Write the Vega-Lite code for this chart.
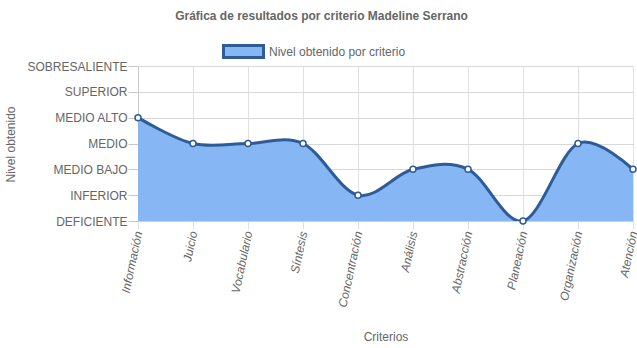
{
  "$schema": "https://vega.github.io/schema/vega-lite/v6.json",
  "width": 495,
  "height": 155,
  "autosize": {"type": "none"},
  "padding": {"left": 138, "top": 66, "right": 4, "bottom": 127},
  "background": "white",
  "config": {
    "font": "Liberation Sans",
    "view": {"stroke": null}
  },
  "title": {
    "text": "Gráfica de resultados por criterio Madeline Serrano",
    "font": "Liberation Sans",
    "fontSize": 12,
    "fontWeight": "bold",
    "color": "#666666",
    "anchor": "middle",
    "frame": "bounds",
    "offset": 7
  },
  "data": {
    "values": [
      {"criterio": "Información", "nivel": 4, "serie": "Nivel obtenido por criterio"},
      {"criterio": "Juicio", "nivel": 3, "serie": "Nivel obtenido por criterio"},
      {"criterio": "Vocabulario", "nivel": 3, "serie": "Nivel obtenido por criterio"},
      {"criterio": "Síntesis", "nivel": 3, "serie": "Nivel obtenido por criterio"},
      {"criterio": "Concentración", "nivel": 1, "serie": "Nivel obtenido por criterio"},
      {"criterio": "Análisis", "nivel": 2, "serie": "Nivel obtenido por criterio"},
      {"criterio": "Abstracción", "nivel": 2, "serie": "Nivel obtenido por criterio"},
      {"criterio": "Planeación", "nivel": 0, "serie": "Nivel obtenido por criterio"},
      {"criterio": "Organización", "nivel": 3, "serie": "Nivel obtenido por criterio"},
      {"criterio": "Atención", "nivel": 2, "serie": "Nivel obtenido por criterio"}
    ]
  },
  "encoding": {
    "x": {
      "field": "criterio",
      "type": "nominal",
      "sort": null,
      "scale": {"type": "point", "padding": 0},
      "axis": {
        "title": "Criterios",
        "titleFont": "Liberation Sans",
        "titleFontSize": 12,
        "titleFontWeight": "normal",
        "titleColor": "#666666",
        "titleY": 115,
        "titleBaseline": "middle",
        "labelAngle": -78,
        "labelFont": "Liberation Sans",
        "labelFontSize": 12,
        "labelFontStyle": "italic",
        "labelColor": "#666666",
        "labelPadding": 2,
        "tickSize": 8,
        "tickColor": "#e0e0e0",
        "grid": true,
        "gridColor": "#e0e0e0",
        "domainColor": "#d0d0d0"
      }
    },
    "y": {
      "field": "nivel",
      "type": "quantitative",
      "scale": {"domain": [0, 6], "nice": false, "zero": true},
      "axis": {
        "title": "Nivel obtenido",
        "titleFont": "Liberation Sans",
        "titleFontSize": 12,
        "titleFontWeight": "normal",
        "titleColor": "#666666",
        "titleX": -128,
        "titleY": 78,
        "titleAngle": -90,
        "titleBaseline": "middle",
        "values": [0, 1, 2, 3, 4, 5, 6],
        "labelExpr": "['DEFICIENTE','INFERIOR','MEDIO BAJO','MEDIO','MEDIO ALTO','SUPERIOR','SOBRESALIENTE'][datum.value]",
        "labelFont": "Liberation Sans",
        "labelFontSize": 12,
        "labelColor": "#666666",
        "labelPadding": 1,
        "tickSize": 10,
        "tickColor": "#c8c8c8",
        "grid": true,
        "gridColor": "#d8d8d8",
        "domainColor": "#c8c8c8"
      }
    }
  },
  "layer": [
    {
      "mark": {"type": "area", "interpolate": "cardinal", "tension": 0, "clip": true, "opacity": 1},
      "encoding": {
        "color": {
          "field": "serie",
          "type": "nominal",
          "scale": {"range": ["#86b6f3"]},
          "legend": {
            "title": null,
            "orient": "none",
            "legendX": 84,
            "legendY": -36,
            "direction": "horizontal",
            "symbolType": "M-1,-0.3H1V0.3H-1Z",
            "symbolSize": 1600,
            "symbolStrokeColor": "#2f5c97",
            "symbolStrokeWidth": 3,
            "symbolOpacity": 1,
            "labelFont": "Liberation Sans",
            "labelFontSize": 12,
            "labelColor": "#666666",
            "labelOffset": 4
          }
        }
      }
    },
    {
      "mark": {"type": "line", "interpolate": "cardinal", "tension": 0, "clip": true, "color": "#2f5c97", "strokeWidth": 3}
    },
    {
      "mark": {"type": "point", "filled": true, "fill": "white", "stroke": "#2f5c97", "strokeWidth": 1.5, "size": 36, "opacity": 1}
    }
  ]
}
